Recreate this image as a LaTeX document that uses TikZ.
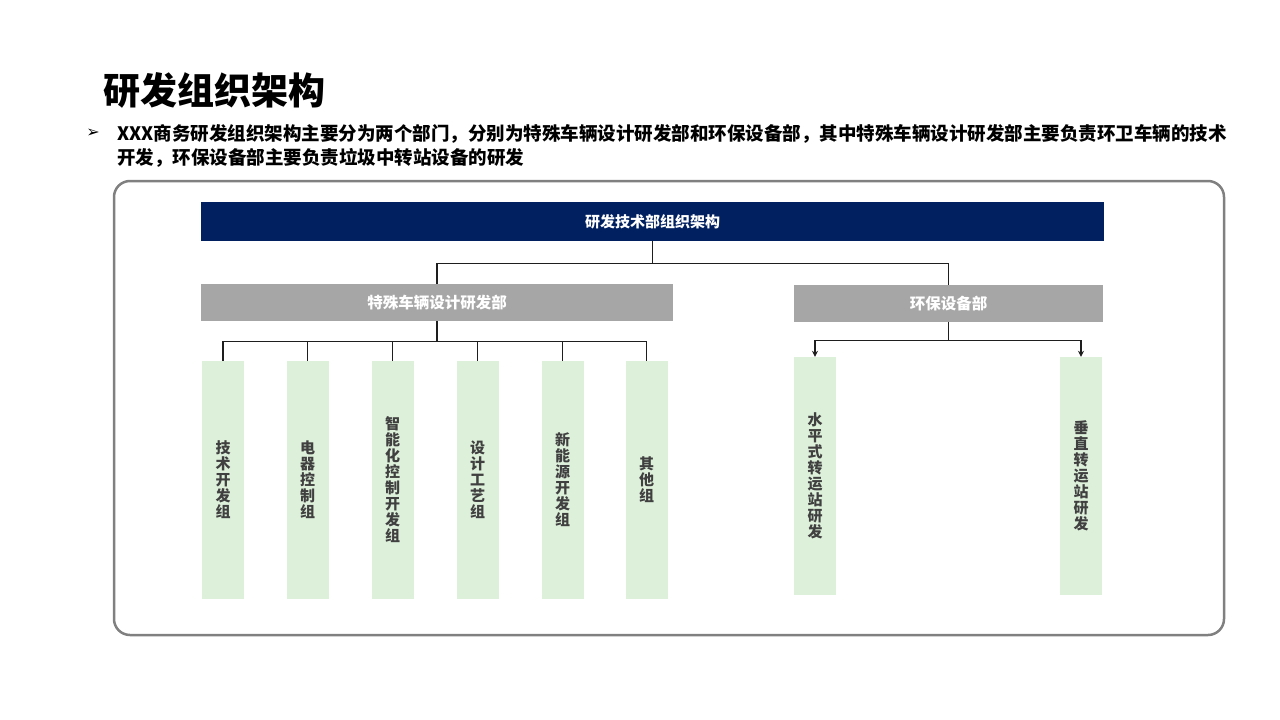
\documentclass[tikz,border=0pt]{standalone}
\usepackage{fontspec}
\setmainfont{Noto Sans CJK SC}
\newfontfamily\symfont{DejaVu Sans}
\usetikzlibrary{arrows.meta, positioning}
\definecolor{navy1}{RGB}{0, 32, 96}
\definecolor{gray1}{RGB}{166, 166, 166}
\definecolor{gray2}{RGB}{64, 64, 64}
\definecolor{green1}{RGB}{221, 240, 218}
\definecolor{frame1}{RGB}{128, 128, 128}
\definecolor{line1}{RGB}{30, 30, 30}

\begin{document}
\begin{tikzpicture}[x=1pt, y=-1pt,
  dept/.style={fill=gray1, text=white, font=\fontsize{15.5}{18}\selectfont\bfseries, minimum height=37pt, inner sep=0pt},
  group/.style={fill=green1, text=gray2, minimum width=42pt, minimum height=238pt, inner sep=0pt, align=center,
    font=\fontsize{15}{16}\selectfont\bfseries},
  link/.style={draw=line1, line width=1.3pt}]
  \useasboundingbox (0,0) rectangle (1280,720);

  % heading
  \node[anchor=west, font=\fontsize{37}{40}\selectfont\bfseries] (title) at (100,90) {研发组织架构};
  \node[font=\symfont\fontsize{16}{18}\selectfont] (bullet) at (93,133) {➢};
  \node[anchor=north west, align=left, inner sep=0pt, font=\fontsize{18.5}{24}\selectfont\bfseries] (intro) at (117,124) {
    XXX商务研发组织架构主要分为两个部门，分别为特殊车辆设计研发部和环保设备部，其中特殊车辆设计研发部主要负责环卫车辆的技术\\
    开发，环保设备部主要负责垃圾中转站设备的研发};

  % frame
  \draw[draw=frame1, line width=2.5pt, rounded corners=16pt] (114,181) rectangle (1224,635);

  % top and departments
  \node[fill=navy1, text=white, minimum width=903pt, minimum height=39pt, inner sep=0pt, font=\fontsize{15}{18}\selectfont\bfseries] (top) at (652.5,221.5) {研发技术部组织架构};
  \node[dept, minimum width=472pt] (rnd) at (437,302.5) {特殊车辆设计研发部};
  \node[dept, minimum width=309pt] (env) at (948.5,303.5) {环保设备部};

  % groups
  \foreach \x/\txt [count=\i] in {223/{技\\术\\开\\发\\组}, 307.5/{电\\器\\控\\制\\组}, 392.5/{智\\能\\化\\控\\制\\开\\发\\组},
      477.5/{设\\计\\工\\艺\\组}, 562.5/{新\\能\\源\\开\\发\\组}, 646.5/{其\\他\\组}}
    \node[group] (g\i) at (\x,480) {\txt};
  \node[group] (h1) at (815,476) {水\\平\\式\\转\\运\\站\\研\\发};
  \node[group] (h2) at (1081,476) {垂\\直\\转\\运\\站\\研\\发};

  % connectors
  \draw[link] (top.south) -- ++(0,22) -| (rnd.north);
  \draw[link] (top.south) -- ++(0,22) -| (env.north);
  \foreach \i in {1,...,6}
    \draw[link] (rnd.south) -- ++(0,20) -| (g\i.north);
  \foreach \i in {1,2}
    \draw[link, -{Stealth[length=6pt, width=6pt]}] (env.south) -- ++(0,18) -| (h\i.north);
\end{tikzpicture}
\end{document}
